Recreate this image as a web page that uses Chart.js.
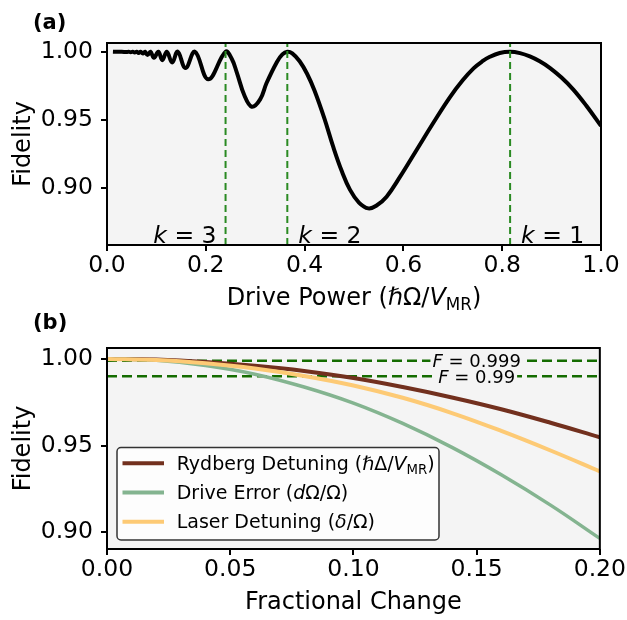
<!DOCTYPE html>
<html>
<head>
<meta charset="utf-8">
<script src="https://cdn.jsdelivr.net/npm/chart.js@4.4.1/dist/chart.umd.min.js"></script>
<style>
  html, body { margin: 0; padding: 0; background: #fff; }
  #wrap { position: relative; width: 627px; height: 620px; }
  #wrap canvas { position: absolute; left: 0; top: 0; }
</style>
</head>
<body>
<div id="wrap">
  <canvas id="chartA" width="627" height="620"></canvas>
  <canvas id="chartB" width="627" height="620"></canvas>
</div>
<script>
const FONT = "'DejaVu Sans', sans-serif";

// panel (a): fidelity vs drive power
const drivePower = [0.012, 0.020, 0.030, 0.040, 0.044, 0.048, 0.052, 0.056, 0.060, 0.064,
  0.068, 0.0725, 0.077, 0.082, 0.088, 0.0951, 0.104, 0.112, 0.121, 0.132,
  0.143, 0.159, 0.178, 0.205, 0.240, 0.2525, 0.263, 0.278, 0.293, 0.310,
  0.323, 0.344, 0.355, 0.365, 0.375, 0.390, 0.405, 0.420, 0.440, 0.458,
  0.475, 0.492, 0.510, 0.529, 0.545, 0.566, 0.593, 0.627, 0.661, 0.694,
  0.720, 0.742, 0.760, 0.775, 0.795, 0.816, 0.836, 0.856, 0.876, 0.897,
  0.920, 0.944, 0.970, 1.000];
const fidelityA = [1.0000, 0.9999, 0.9999, 0.9998, 1.0000, 0.9996, 1.0000, 0.9994, 1.0000, 0.9991,
  1.0000, 0.9986, 1.0000, 0.9975, 1.0000, 0.9955, 1.0000, 0.9938, 1.0000, 0.9920,
  1.0000, 0.9880, 1.0000, 0.9797, 1.0000, 0.9948, 0.9845, 0.9680, 0.9596, 0.9650,
  0.9770, 0.9925, 0.9980, 1.0000, 0.9988, 0.9930, 0.9838, 0.9715, 0.9510, 0.9300,
  0.9125, 0.8985, 0.8892, 0.8849, 0.8868, 0.8935, 0.9080, 0.9280, 0.9480, 0.9665,
  0.9790, 0.9878, 0.9930, 0.9963, 0.9991, 1.0000, 0.9990, 0.9966, 0.9930, 0.9880,
  0.9810, 0.9722, 0.9605, 0.9455];
const kPositions = [0.24, 0.365, 0.816];
const kNames = ["3", "2", "1"];
const xTicksA = [0, 0.2, 0.4, 0.6, 0.8, 1.0];
const xTickLabelsA = ["0.0", "0.2", "0.4", "0.6", "0.8", "1.0"];
const yTicks = [0.90, 0.95, 1.00];
const yTickLabels = ["0.90", "0.95", "1.00"];

// panel (b): fidelity vs fractional change
const fracChange = [0, 0.02, 0.04, 0.06, 0.08, 0.10, 0.12, 0.14, 0.16, 0.18, 0.20];
const rydbergFid = [1.0, 0.9996, 0.9982, 0.9960, 0.9930, 0.9890, 0.9838, 0.9778, 0.9710, 0.9632, 0.9548];
const driveErrFid = [1.0, 0.9992, 0.9962, 0.9912, 0.9838, 0.9745, 0.9628, 0.9490, 0.9332, 0.9157, 0.8965];
const laserFid = [1.0, 0.9994, 0.9975, 0.9945, 0.9902, 0.9847, 0.9776, 0.9688, 0.9585, 0.9472, 0.9352];
const fLevels = [0.999, 0.99];
const fNames = ["0.999", "0.99"];
const xTicksB = [0, 0.05, 0.10, 0.15, 0.20];
const xTickLabelsB = ["0.00", "0.05", "0.10", "0.15", "0.20"];

const yMinA = 0.858, yMaxA = 1.0064;
const yMinB = 0.8904, yMaxB = 1.0063;

function fontFor(p, size) {
  const s = p.sub ? size * 0.7 : size;
  return (p.it ? "italic " : "") + (p.bold ? "bold " : "") + s + "px " + FONT;
}
function richWidth(ctx, parts, size) {
  let w = 0;
  parts.forEach(p => { ctx.font = fontFor(p, size); w += ctx.measureText(p.t).width; });
  return w;
}
function drawRich(ctx, parts, x, y, size, align) {
  const w = richWidth(ctx, parts, size);
  let cx = align === "center" ? x - w / 2 : align === "right" ? x - w : x;
  ctx.textAlign = "left";
  ctx.textBaseline = "alphabetic";
  parts.forEach(p => {
    ctx.font = fontFor(p, size);
    ctx.fillText(p.t, cx, y + (p.sub ? size * 0.22 : 0));
    cx += ctx.measureText(p.t).width;
  });
  return w;
}

function axisOpts(min, max, ticks, labels, isX) {
  return {
    type: "linear",
    min: min,
    max: max,
    afterFit: s => { if (isX) s.height = 40; else s.width = 107; },
    afterBuildTicks: s => { s.ticks = ticks.map(v => ({ value: v })); },
    ticks: {
      callback: (v, i) => labels[i],
      font: { family: FONT, size: 23.5 },
      color: "#000",
      padding: isX ? 1 : 8,
      maxRotation: 0,
      autoSkip: false
    },
    grid: { drawOnChartArea: false, drawTicks: true, tickLength: 6, lineWidth: 2, color: "#000" },
    border: { display: false }
  };
}

function plotBg(chart) {
  const { ctx, chartArea: a } = chart;
  ctx.save();
  ctx.fillStyle = "#f4f4f4";
  ctx.fillRect(a.left, a.top, a.right - a.left, a.bottom - a.top);
  ctx.restore();
}

function frame(ctx, a) {
  ctx.strokeStyle = "#000";
  ctx.lineWidth = 2;
  ctx.strokeRect(a.left, a.top, a.right - a.left, a.bottom - a.top);
}

function yTitle(ctx, a) {
  ctx.save();
  ctx.translate(30, (a.top + a.bottom) / 2);
  ctx.rotate(-Math.PI / 2);
  drawRich(ctx, [{ t: "Fidelity" }], 0, 0, 24, "center");
  ctx.restore();
}

// ---------- panel (a)
const pointsA = drivePower.map((x, i) => ({ x: x, y: fidelityA[i] }));
const kLineSets = kPositions.map(k => ({
  data: [{ x: k, y: yMinA }, { x: k, y: yMaxA }],
  borderColor: "#2a8a22",
  borderWidth: 2,
  borderDash: [7, 4],
  pointRadius: 0,
  order: 0
}));

new Chart(document.getElementById("chartA"), {
  type: "line",
  data: {
    datasets: [{
      data: pointsA,
      borderColor: "#000",
      borderWidth: 4,
      pointRadius: 0,
      tension: 0.4,
      order: 1
    }].concat(kLineSets)
  },
  options: {
    responsive: false,
    animation: false,
    events: [],
    layout: { padding: { top: 43, right: 26, bottom: 335, left: 0 } },
    plugins: { legend: { display: false }, tooltip: { enabled: false } },
    scales: {
      x: axisOpts(0, 1, xTicksA, xTickLabelsA, true),
      y: axisOpts(yMinA, yMaxA, yTicks, yTickLabels, false)
    }
  },
  plugins: [{
    id: "panelA",
    beforeDraw: plotBg,
    afterDraw(chart) {
      const { ctx, chartArea: a, scales } = chart;
      ctx.save();
      ctx.fillStyle = "#000";
      kPositions.forEach((k, i) => {
        const px = scales.x.getPixelForValue(k);
        const parts = [{ t: "k", it: true }, { t: " = " + kNames[i] }];
        if (i === 0) drawRich(ctx, parts, px - 9, a.bottom - 2, 23.5, "right");
        else drawRich(ctx, parts, px + 11, a.bottom - 2, 23.5, "left");
      });
      frame(ctx, a);
      drawRich(ctx, [{ t: "Drive Power (" }, { t: "ℏ", it: true }, { t: "Ω/" }, { t: "V", it: true },
        { t: "MR", sub: true }, { t: ")" }], (a.left + a.right) / 2, a.bottom + 59.5, 24, "center");
      yTitle(ctx, a);
      drawRich(ctx, [{ t: "(a)", bold: true }], 33, 29, 21, "left");
      ctx.restore();
    }
  }]
});

// ---------- panel (b)
const series = [
  { name: [{ t: "Rydberg Detuning (" }, { t: "ℏ", it: true }, { t: "Δ/" }, { t: "V", it: true }, { t: "MR", sub: true }, { t: ")" }],
    vals: rydbergFid, color: "#72301e", width: 4, order: 3 },
  { name: [{ t: "Drive Error (" }, { t: "d", it: true }, { t: "Ω/Ω)" }],
    vals: driveErrFid, color: "#84b490", width: 3.5, order: 2 },
  { name: [{ t: "Laser Detuning (" }, { t: "δ", it: true }, { t: "/Ω)" }],
    vals: laserFid, color: "#fdca75", width: 4, order: 1 }
];
const setsB = series.map(s => ({
  data: fracChange.map((x, i) => ({ x: x, y: s.vals[i] })),
  borderColor: s.color,
  borderWidth: s.width,
  pointRadius: 0,
  tension: 0.4,
  order: s.order
}));
const fLineSets = fLevels.map(f => ({
  data: [{ x: xTicksB[0], y: f }, { x: xTicksB[xTicksB.length - 1], y: f }],
  borderColor: "#146c00",
  borderWidth: 2.5,
  borderDash: [10, 5],
  pointRadius: 0,
  order: 10
}));

new Chart(document.getElementById("chartB"), {
  type: "line",
  data: { datasets: setsB.concat(fLineSets) },
  options: {
    responsive: false,
    animation: false,
    events: [],
    layout: { padding: { top: 348, right: 26, bottom: 31, left: 0 } },
    plugins: { legend: { display: false }, tooltip: { enabled: false } },
    scales: {
      x: axisOpts(0, 0.2, xTicksB, xTickLabelsB, true),
      y: axisOpts(yMinB, yMaxB, yTicks, yTickLabels, false)
    }
  },
  plugins: [{
    id: "panelB",
    beforeDraw: plotBg,
    afterDraw(chart) {
      const { ctx, chartArea: a, scales } = chart;
      ctx.save();
      // F labels sitting on the dashed lines
      fLevels.forEach((f, i) => {
        const px = scales.x.getPixelForValue(0.15);
        const py = scales.y.getPixelForValue(f);
        const parts = [{ t: "F", it: true }, { t: " = " + fNames[i] }];
        const w = richWidth(ctx, parts, 18);
        ctx.fillStyle = "#f4f4f4";
        ctx.fillRect(px - w / 2 - 2, py - 3, w + 4, 6);
        ctx.fillStyle = "#000";
        drawRich(ctx, parts, px, py + 6.5, 18, "center");
      });
      // legend
      ctx.beginPath();
      ctx.roundRect(117, 447.5, 322, 92.5, 4);
      ctx.fillStyle = "rgba(255,255,255,0.8)";
      ctx.fill();
      ctx.strokeStyle = "#333";
      ctx.lineWidth = 1.5;
      ctx.stroke();
      series.forEach((s, i) => {
        const y = 463.3 + i * 29.2;
        ctx.beginPath();
        ctx.moveTo(122.5, y);
        ctx.lineTo(164, y);
        ctx.strokeStyle = s.color;
        ctx.lineWidth = 4;
        ctx.stroke();
        ctx.fillStyle = "#000";
        drawRich(ctx, s.name, 176.7, y + 6.3, 19, "left");
      });
      frame(ctx, a);
      drawRich(ctx, [{ t: "Fractional Change" }], (a.left + a.right) / 2, a.bottom + 60, 24, "center");
      yTitle(ctx, a);
      drawRich(ctx, [{ t: "(b)", bold: true }], 33, 329, 21, "left");
      ctx.restore();
    }
  }]
});
</script>
</body>
</html>
